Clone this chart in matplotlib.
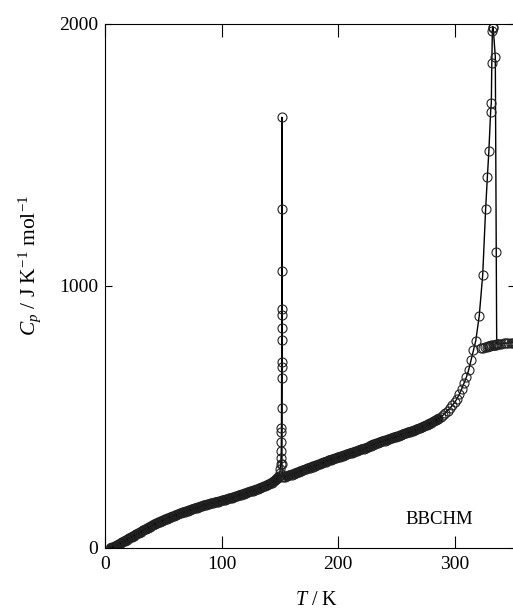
import matplotlib
matplotlib.use("Agg")
import matplotlib.pyplot as plt

plt.rcParams['font.family'] = ['Liberation Serif', 'DejaVu Serif']
plt.rcParams['mathtext.fontset'] = 'custom'
plt.rcParams['mathtext.rm'] = 'Liberation Serif'
plt.rcParams['mathtext.it'] = 'Liberation Serif:italic'

# main run: temperature (K) and heat capacity (J K-1 mol-1)
T_low = [5, 7, 9, 11, 13, 15, 17, 19, 21, 23, 25, 27, 29, 31, 33, 35, 37, 39, 41, 43,
         45, 47, 49, 51, 53, 55, 57, 59, 61, 63, 65, 67, 69, 71, 73, 75, 77, 79, 81, 83,
         85, 87, 89, 91, 93, 95, 97, 99, 101, 103, 105, 107, 109, 111, 113, 115, 117, 119,
         121, 123, 125, 127, 129, 131, 133, 135, 137, 139, 141, 143, 145]
Cp_low = [1, 3, 7, 12, 17, 22, 27, 32, 37, 42, 47, 52, 57, 62, 67, 72, 77, 82, 87, 92,
          96, 100, 104, 108, 112, 115, 119, 122, 126, 129, 133, 136, 139, 142, 145, 148, 151, 154, 157, 160,
          163, 165, 168, 170, 172, 175, 177, 179, 182, 184, 187, 190, 192, 195, 198, 201, 204, 207,
          210, 213, 216, 219, 222, 225, 229, 232, 236, 240, 244, 249, 255]

T_tr1 = [146, 147, 148, 149, 149.8, 150.3, 150.7, 151.0, 151.2, 151.3, 151.35, 151.4, 151.45,
         151.5, 151.5, 151.55, 151.55, 151.6, 151.6, 151.65, 151.65, 151.7, 151.7,
         151.8, 152.2, 153, 154]
Cp_tr1 = [258, 262, 268, 275, 285, 300, 320, 345, 370, 406, 444, 457, 534,
          648, 692, 711, 794, 838, 889, 912, 1058, 1294, 1644,
          320, 280, 272, 271]

T_mid = [156, 158, 160, 162, 164, 166, 168, 170, 172, 174, 176, 178, 180, 182, 184, 186, 188,
         190, 192, 194, 196, 198, 200, 202, 204, 206, 208, 210, 212, 214, 216, 218, 220, 222,
         224, 226, 228, 230, 232, 234, 236, 238, 240, 242, 244, 246, 248, 250, 252, 254, 256,
         258, 260, 262, 264, 266, 268, 270, 272, 274, 276, 278, 280, 282, 284, 286, 288, 290,
         292, 294, 296, 298, 300, 302, 304, 306, 308, 310, 312, 314, 316, 318]
Cp_mid = [274, 277, 280, 283, 287, 290, 294, 297, 300, 304, 307, 311, 314, 317, 320, 324, 327,
          330, 334, 337, 340, 343, 346, 349, 352, 355, 358, 361, 364, 367, 370, 373, 376, 379,
          382, 385, 391, 395, 398, 401, 404, 407, 410, 413, 416, 419, 422, 425, 428, 431, 435,
          438, 441, 444, 447, 450, 454, 457, 461, 465, 469, 474, 478, 483, 488, 494, 500, 507,
          515, 524, 534, 545, 556, 570, 588, 607, 630, 652, 680, 717, 755, 790]

T_tr2 = [321, 324, 326.5, 328, 329.3, 330.8, 331.4, 331.8, 332.3, 332.6, 333.0, 334.8, 335.6, 336.0]
Cp_tr2 = [885, 1042, 1293, 1417, 1516, 1665, 1700, 1850, 1975, 1990, 1985, 1875, 1131, 780]

T_high = [336.5, 338, 340, 342, 344, 346, 348, 350, 352]
Cp_high = [778, 779, 780, 781, 782, 782, 783, 783, 784]

# second set of high-temperature phase points
T_run2 = [322.8, 324.5, 326, 327.3, 328.5, 329.6, 330.6, 331.5, 332.4, 333.3, 334.2, 335.1, 336]
Cp_run2 = [762, 765, 767, 769, 770, 771, 772, 773, 774, 775, 776, 776, 777]

T_all = T_low + T_tr1 + T_mid + T_tr2 + T_high
Cp_all = Cp_low + Cp_tr1 + Cp_mid + Cp_tr2 + Cp_high

x_ticks = [0, 100, 200, 300]
y_ticks = [0, 1000, 2000]

W, H = 513, 609
fig = plt.figure(figsize=(W / 100, H / 100), dpi=100)
ax = fig.add_axes([105 / W, 1 - 548 / H, (515 - 105) / W, (548 - 24) / H])

# dense, overlapping circles appear as a solid band in the original
ax.plot(T_low, Cp_low, color='#1a1a1a', lw=7.0, solid_capstyle='round')
ax.plot(T_tr1[:3], Cp_tr1[:3], color='#1a1a1a', lw=7.0, solid_capstyle='round')
ax.plot(T_mid[:66], Cp_mid[:66], color='#1a1a1a', lw=7.0, solid_capstyle='round')

ax.plot(T_all, Cp_all, color='black', lw=1.0, marker='o', ms=6.5,
        mfc='none', mec='#222222', mew=0.8, clip_on=True)
ax.plot(T_run2, Cp_run2, ls='none', marker='o', ms=6.5,
        mfc='none', mec='#222222', mew=0.8)

ax.set_xlim(0, 351.7)
ax.set_ylim(0, 2000)
ax.set_xticks(x_ticks)
ax.set_yticks(y_ticks)
ax.tick_params(axis='x', direction='in', length=9, width=0.8, top=True, labelsize=14, pad=6)
ax.tick_params(axis='y', direction='in', length=5, width=0.8, right=True, labelsize=14, pad=5)
for s in ax.spines.values():
    s.set_linewidth(0.8)

ax.set_xlabel(r'$T$ / K', fontsize=14.5)
ax.xaxis.set_label_coords(0.517, -0.101)
ax.set_ylabel(r'$C_p$ / J K$^{-1}$ mol$^{-1}$', fontsize=15.5)
ax.yaxis.set_label_coords(-0.183, 0.54)
ax.xaxis.label.set_va('center')
ax.yaxis.label.set_va('center')

ax.text(287, 107, 'BBCHM', fontsize=13.5, ha='center', va='center')

fig.savefig('out.png', dpi=100)
